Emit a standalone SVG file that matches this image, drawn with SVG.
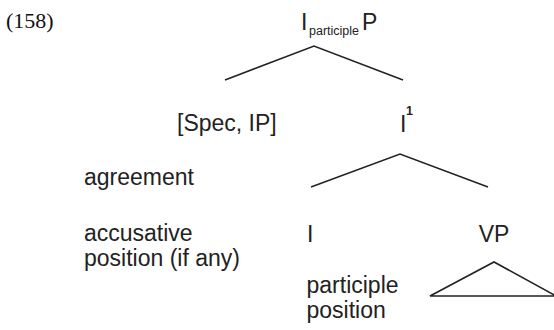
<svg xmlns="http://www.w3.org/2000/svg" width="554" height="330" viewBox="0 0 554 330">
<style>
.t{font-family:"Liberation Sans",Arial,sans-serif;font-size:23px;fill:#222}
.s{font-family:"Liberation Sans",Arial,sans-serif;font-size:12.5px;fill:#222}
.e{fill:none;stroke:#222;stroke-width:1.6;stroke-linejoin:miter}
</style>
<rect width="554" height="330" fill="#fff"/>
<text x="6" y="28" font-family="'Liberation Serif','Times New Roman',serif" font-size="22" fill="#111">(158)</text>
<g id="root"><text class="t" x="301" y="30">I</text><text class="s" x="309" y="35">participle</text><text class="t" x="362" y="30">P</text></g>
<g id="spec"><text class="t" x="177" y="131">[Spec, IP]</text></g>
<g id="ibar"><text class="t" x="400" y="132">I</text><text class="s" x="406" y="115" font-weight="bold">1</text></g>
<g id="agreement"><text class="t" x="84" y="185">agreement</text></g>
<g id="accusative"><text class="t" x="84" y="241">accusative</text><text class="t" x="84" y="266">position (if any)</text></g>
<g id="i"><text class="t" x="307" y="242">I</text></g>
<g id="vp"><text class="t" x="494" y="242" text-anchor="middle">VP</text></g>
<g id="participle"><text class="t" x="306.5" y="293">participle</text><text class="t" x="306.5" y="318">position</text></g>
<g id="connectors">
<polyline class="e" points="225,80 314,46 403,80"/>
<polyline class="e" points="311,187 400,154 488,187"/>
<polygon class="e" points="430,296 494,262 556,296"/>
</g>
</svg>
